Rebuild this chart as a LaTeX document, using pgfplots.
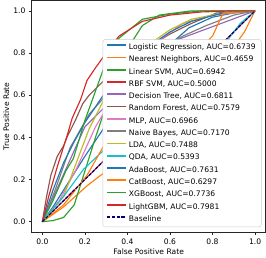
\documentclass[border=0pt]{standalone}
\usepackage{fontspec}
\setmainfont{DejaVu Sans}
\usepackage{pgfplots}
\pgfplotsset{compat=1.18}
\definecolor{c0}{HTML}{1F77B4}
\definecolor{c1}{HTML}{FF7F0E}
\definecolor{c2}{HTML}{2CA02C}
\definecolor{c3}{HTML}{D62728}
\definecolor{c4}{HTML}{9467BD}
\definecolor{c5}{HTML}{8C564B}
\definecolor{c6}{HTML}{E377C2}
\definecolor{c7}{HTML}{7F7F7F}
\definecolor{c8}{HTML}{BCBD22}
\definecolor{c9}{HTML}{17BECF}
\definecolor{navyc}{HTML}{000080}
\definecolor{framec}{HTML}{CCCCCC}
\begin{document}
\begin{tikzpicture}
\begin{axis}[
  scale only axis, width=225pt, height=223pt,
  xmin=-0.05, xmax=1.05, ymin=-0.05, ymax=1.05,
  xtick={0,0.2,0.4,0.6,0.8,1.0}, ytick={0,0.2,0.4,0.6,0.8,1.0},
  xticklabel style={/pgf/number format/.cd, fixed, fixed zerofill, precision=1},
  yticklabel style={/pgf/number format/.cd, fixed, fixed zerofill, precision=1},
  /pgf/number format/assume math mode=true,
  tick label style={font=\fontsize{7.3}{8}\selectfont},
  label style={font=\fontsize{7.3}{8}\selectfont},
  xlabel={False Positive Rate}, ylabel={True Positive Rate},
  xlabel style={yshift=3pt}, ylabel style={yshift=-3pt},
  tick align=outside, tick pos=left, major tick length=2.5pt,
  axis line style={line width=0.6pt, black!85},
  every tick/.style={black!85, line width=0.6pt},
  legend cell align=left,
  legend image code/.code={\draw[#1, line width=1.6pt] (0pt,2pt) -- (18pt,2pt);},
  legend style={at={(1,0)}, anchor=south east, xshift=-4pt, yshift=5pt,
    font=\fontsize{7.3}{8}\selectfont, draw=framec, rounded corners=2pt,
    fill=white, row sep=3pt,
    inner xsep=3.5pt, inner ysep=3pt,
    nodes={inner ysep=0.5pt, text height=6pt, text depth=1.8pt}},
]
\addplot[c0, line width=1.1pt] coordinates {(0,0)(0.05,0.07)(0.1,0.15)(0.2,0.31)(0.3,0.46)(0.4,0.61)(0.5,0.73)(0.6,0.84)(0.69,0.92)(0.8,0.97)(0.9,0.99)(1,1)};
\addlegendentry{Logistic Regression, AUC=0.6739}
\addplot[c1, line width=1.1pt] coordinates {(0,0)(0.1,0.07)(0.21,0.17)(0.3,0.24)(0.4,0.32)(0.5,0.41)(0.6,0.5)(0.7,0.6)(0.8,0.7)(0.9,0.83)(0.95,0.9)(1,1)};
\addlegendentry{Nearest Neighbors, AUC=0.4659}
\addplot[c2, line width=1.1pt] coordinates {(0,0)(0.05,0.005)(0.1,0.02)(0.15,0.08)(0.2,0.24)(0.25,0.4)(0.3,0.55)(0.35,0.7)(0.4,0.82)(0.47,0.93)(0.55,0.98)(0.7,1)(1,1)};
\addlegendentry{Linear SVM, AUC=0.6942}
\addplot[c3, line width=1.1pt] coordinates {(0,0)(1,1)};
\addlegendentry{RBF SVM, AUC=0.5000}
\addplot[c4, line width=1.1pt] coordinates {(0,0)(0.2,0.45)(0.6,0.85)(1,1)};
\addlegendentry{Decision Tree, AUC=0.6811}
\addplot[c5, line width=1.1pt] coordinates {(0,0)(0.02,0.12)(0.04,0.22)(0.07,0.31)(0.1,0.36)(0.12,0.41)(0.155,0.48)(0.19,0.56)(0.22,0.6)(0.3,0.68)(0.4,0.76)(0.5,0.83)(0.6,0.89)(0.7,0.94)(0.82,0.99)(1,1)};
\addlegendentry{Random Forest, AUC=0.7579}
\addplot[c6, line width=1.1pt] coordinates {(0,0)(0.08,0.1)(0.16,0.25)(0.25,0.45)(0.35,0.62)(0.45,0.76)(0.55,0.86)(0.66,0.94)(0.8,0.98)(1,1)};
\addlegendentry{MLP, AUC=0.6966}
\addplot[c7, line width=1.1pt] coordinates {(0,0)(0.06,0.15)(0.13,0.35)(0.22,0.51)(0.3,0.6)(0.4,0.69)(0.5,0.78)(0.57,0.83)(0.66,0.88)(0.77,0.93)(0.9,0.98)(1,1)};
\addlegendentry{Naive Bayes, AUC=0.7170}
\addplot[c8, line width=1.1pt] coordinates {(0,0)(0.1,0.12)(0.186,0.35)(0.22,0.44)(0.3,0.6)(0.4,0.74)(0.5,0.84)(0.6,0.91)(0.7,0.96)(0.85,0.99)(1,1)};
\addlegendentry{LDA, AUC=0.7488}
\addplot[c9, line width=1.1pt] coordinates {(0,0)(0.1,0.12)(0.195,0.25)(0.3,0.35)(0.45,0.48)(0.6,0.6)(0.75,0.7)(0.82,0.76)(0.87,0.86)(0.93,0.94)(1,1)};
\addlegendentry{QDA, AUC=0.5393}
\addplot[c0, line width=1.1pt] coordinates {(0,0)(0.05,0.15)(0.1,0.28)(0.15,0.38)(0.2,0.47)(0.3,0.62)(0.4,0.74)(0.5,0.83)(0.6,0.9)(0.7,0.95)(0.85,0.99)(1,1)};
\addlegendentry{AdaBoost, AUC=0.7631}
\addplot[c1, line width=1.1pt] coordinates {(0,0)(0.1,0.08)(0.21,0.22)(0.3,0.38)(0.4,0.53)(0.5,0.66)(0.6,0.76)(0.68,0.81)(0.76,0.84)(0.8,0.88)(0.85,0.99)(1,1)};
\addlegendentry{CatBoost, AUC=0.6297}
\addplot[c2, line width=1.1pt] coordinates {(0,0)(0.05,0.1)(0.11,0.24)(0.146,0.3)(0.2,0.48)(0.25,0.62)(0.3,0.76)(0.36,0.87)(0.47,0.96)(0.6,0.985)(0.75,1)(1,1)};
\addlegendentry{XGBoost, AUC=0.7736}
\addplot[c3, line width=1.1pt] coordinates {(0,0)(0.03,0.12)(0.07,0.26)(0.12,0.42)(0.14,0.49)(0.18,0.58)(0.21,0.67)(0.25,0.73)(0.3,0.8)(0.36,0.88)(0.47,0.95)(0.6,0.98)(0.75,0.995)(0.9,1)(1,1)};
\addlegendentry{LightGBM, AUC=0.7981}
\addplot[navyc, line width=1.1pt, dash pattern=on 3pt off 1.5pt] coordinates {(0,0)(1,1)};
\addlegendentry{Baseline}
\end{axis}
\end{tikzpicture}
\end{document}
